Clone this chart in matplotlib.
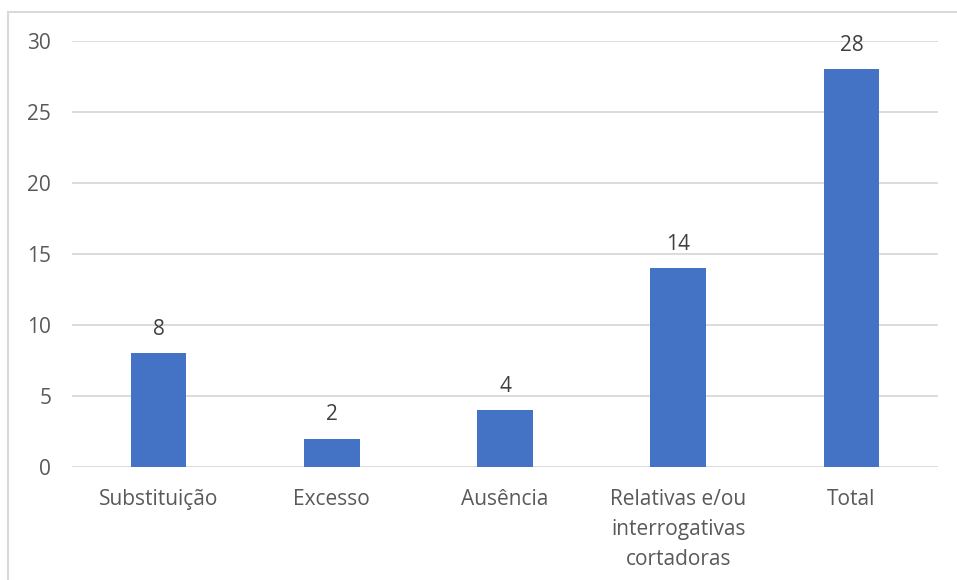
import matplotlib.pyplot as plt
from matplotlib.patches import Rectangle

# dados do gráfico
categorias = ["Substituição", "Excesso", "Ausência",
              "Relativas e/ou\ninterrogativas\ncortadoras", "Total"]
valores = [8, 2, 4, 14, 28]
yticks = [0, 5, 10, 15, 20, 25, 30]

plt.rcParams['font.family'] = ['Open Sans', 'DejaVu Sans']

fig = plt.figure(figsize=(9.57, 5.8), dpi=100)
ax = fig.add_axes([72/957, 1 - 467/580, (938 - 72)/957, (467 - 41)/580])

# moldura cinza do gráfico (sai da imagem à direita e embaixo)
fig.patches.append(Rectangle((8/957, -0.1), 1.2, 1 - 12/580 + 0.1,
                             transform=fig.transFigure, fill=False,
                             edgecolor="#D9D9D9", linewidth=1.5))

x = range(len(categorias))
ax.bar(x, valores, width=0.32, color="#4472C4", zorder=3)
for i, v in zip(x, valores):
    ax.text(i, v + 0.95, str(v), ha="center", va="bottom",
            fontsize=15, color="#404040")

ax.set_ylim(0, 30)
ax.set_xlim(-0.5, len(categorias) - 0.5)
ax.set_yticks(yticks)
ax.set_xticks(list(x))
ax.set_xticklabels(categorias, fontsize=15, color="#595959", linespacing=1.55)
ax.tick_params(axis="y", labelsize=15, labelcolor="#595959", length=0, pad=15)
ax.tick_params(axis="x", length=0, pad=16)
ax.grid(axis="y", color="#D9D9D9", linewidth=1.3, zorder=0)
for s in ax.spines.values():
    s.set_visible(False)

fig.savefig("out.png", dpi=100)
